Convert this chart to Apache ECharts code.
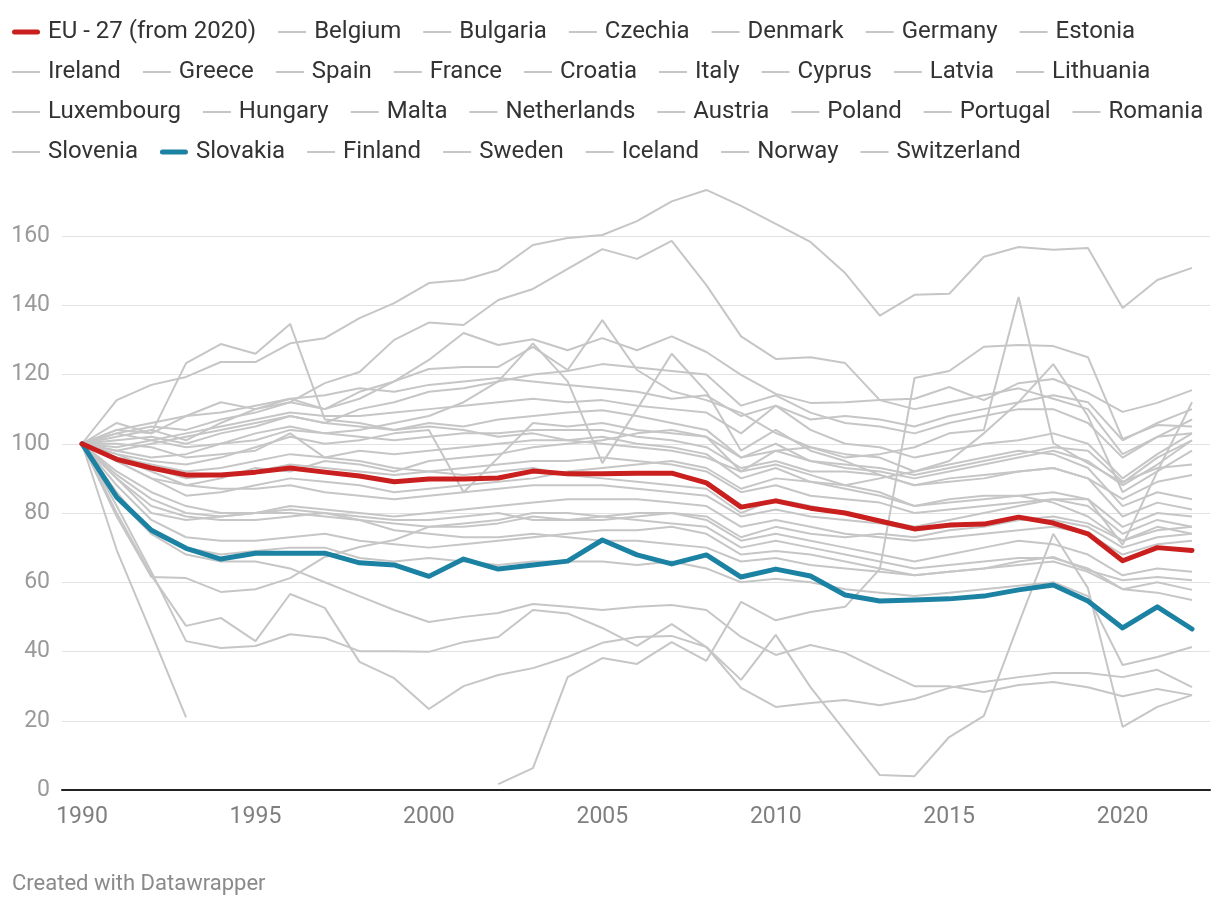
<!DOCTYPE html>
<html><head><meta charset="utf-8">
<script src="https://cdn.jsdelivr.net/npm/echarts@6/dist/echarts.min.js"></script>
<style>html,body{margin:0;padding:0;background:#fff}#c{width:1220px;height:906px}</style>
</head><body><div id="c"></div>
<script>
const years = [1990,1991,1992,1993,1994,1995,1996,1997,1998,1999,2000,2001,2002,2003,2004,2005,2006,2007,2008,2009,2010,2011,2012,2013,2014,2015,2016,2017,2018,2019,2020,2021,2022];
const xTickLabels = [1990,1995,2000,2005,2010,2015,2020];

const eu27 = [100,95.5,93,91,91,91.8,93,91.8,90.7,89, 89.8,89.8,90.1,92.1,91.3,91.3,91.5,91.5,88.7,81.7, 83.5,81.4,80,77.7,75.4,76.5,76.8,78.8,77.1,74, 66.2,70,69.2];
const slovakia = [100,84.6,75,69.8,66.7,68.4,68.4,68.4,65.6,65, 61.7,66.7,63.8,65,66.1,72.2,67.9,65.3,67.9,61.5, 63.8,61.8,56.3,54.6,54.9,55.2,56,57.8,59.2,54.6, 46.8,52.9,46.5];

const belgium = [100,100,99,96,97,98,103,96,98,97, 98,99,100,101,101,102,100,99,97,90, 93,89,87,85,82,83,84,85,86,84, 76,80,79];
const bulgaria = [100,79,61.5,61.2,57.2,58,61.2,67.3,70.2,72.2, 76,76,77,79,78,79,80,80,78,72, 74,72,70,68,66,68,70,72,71,68, 62,64,63];
const czechia = [100,88,78,73,72,72,73,74,72,71, 70,71,72,73,74,75,75,76,74,68, 69,68,66,64,62,63,64,65,66,63, 58,60,57.8];
const denmark = [100,91,84,80,79,80,80,79,78,77, 76,77,78,80,80,79,78,77,76,70, 72,70,68,66,64,65,66,67,67,64, 58,57,54.9];
const germany = [100,90,82,79,78,78,79,80,78,75, 74,73,73,74,73,72,72,71,70,66, 67,65,64,63,62,63,64,66,67.3,63.5, 60.6,61.5,60.6];
const estonia = [100,80,62,47.4,49.7,43,56.6,52.6,37,32.3, 23.4,30,33.2,35.2,38.4,42.5,44.2,44.5,41.3,29.5, 24,25.1,26,24.5,26.3,29.5,31.2,32.6,33.8,33.8, 32.6,34.7,29.7];
const ireland = [100,106,103,108,112,110,113,110,115,118, 124.2,132,128.5,130.2,127,130.5,127,131,126.5,119.9, 114.4,111.8,112,112.6,113,116.4,112.6,117.5,118.7,114.7, 109.2,111.8,115.5];
const greece = [100,98,96,97,100,103,105,103,104,106, 108,112,118,129,118,94.4,110,126,115,98, 104,98,95,91,88,90,91,92,93,90, 79,83,81];
const spain = [100,102,104,101,106,110,112,117.5,120.7,130, 135,134.3,141.5,144.7,150.5,156.2,153.4,158.6,145.8,131, 124.5,125,123.3,112.6,110,112,114,116,113,110, 97,102,103];
const france = [100,97,93,90,91,92,94,93,92,91, 92,93,94,95,95,96,95,94,92,86, 88,85,84,83,80,81,82,83,84,82, 74,78,76];
const croatia = [100,95,90,88,87,87,88,86,85,84, 85,86,87,88,88,88,87,86,85,79, 81,79,78,77,75,76,77,78,78,76, 70,73,74];
const italy = [100,103,101,99,100,101,104,103,102,101, 102,103,103,104,104,104,102,101,99,93, 95,92,92,91,88,89,90,92,93,90, 84,89,91];
const cyprus = [100,112.6,117,119.3,123.6,123.6,129,130.5,136.3,140.6, 146.4,147.3,150.2,157.4,159.4,160.3,164.3,170,173.3,168.7, 163.5,158.3,149.3,137,143,143.3,154,156.8,156,156.5, 139.2,147.3,150.8];
const latvia = [100,69.3,45.3,21,null,null,null,null,null,null, null,null,1.7,6.3,32.6,38.1,36.4,42.7,37.3,54.3, 49,51.4,52.9,63.8,119,121,128,128.5,128.2,125, 101.4,105.4,105];
const lithuania = [100,86,74,68,66,66,64,60,56,52, 48.5,50,51.1,53.7,52.9,52,52.9,53.4,52,44.2, 39,41.9,39.6,34.7,30,30,28.3,30.3,31.2,29.7, 27.1,29.2,27.4];
const luxembourg = [100,97,95,94,96,99,102,100,101,103, 104,86,96,106,105,106,104,103,102,96, 98,95,94,93,91,93,95,97,99,98, 89,93,94];
const hungary = [100,84,74,70,68,69,70,70,67,66, 67,66,65,66,66,66,65,66,64,60, 61,60,58,57,56,57,58,59,60,56, 36.1,38.4,41.3];
const malta = [100,96,92,88,90,93,92,95,94,92, 95,96,97,99,100,101,103,104,102,92, 98,99,96,97,99,103,104,142.4,100.2,94.4, 88.7,96,101];
const netherlands = [100,90,80,78,79,80,81,80,79,78, 78,79,80,78,78,78,79,80,79,73, 76,74,73,74,73,75,76,78,79,77, 72,75,76];
const austria = [100,101,102,100,103,105,108,106,105,104, 106,105,107,108,109,109.7,108,106,104,96, 100,95,93,92,90,92,94,96,98,95, 88,94,101];
const poland = [100,92,86,82,80,80,82,81,80,79, 80,81,82,83,84,84,84,83,82,76, 78,76,74,73,72,73,74,75,76,74, 68,71,72];
const portugal = [100,103,105,104,107,109,112,110,113,118, 121.6,122.2,122.2,128,121.3,135.7,121.3,115.2,112.6,108.9, 103.1,99,97,96,92,94,96,98,97,93, 82,86,84];
const romania = [100,82,63,43,41,41.6,45,43.9,40.1,40.1, 39.9,42.7,44.2,52,51,46.8,41.6,47.9,41.3,31.8, 44.8,29.7,17,4.3,4,15.3,21.4,48,74,58.3, 18.2,24,27.4];
const slovenia = [100,104,103,123.3,128.8,126,134.6,107,106,104, 105,104,102,103,101,100,99,98,96,92, 94,91,88,86,82,84,85,85,83,79, 72,76,74];
const finland = [100,96,94,92,93,95,97,96,95,93, 92,91,92,93,91,90,89,88,87,80, 84,82,80,78,76,78,80,82,84,84, 70.8,92,112];
const sweden = [100,95,90,85,86,88,90,89,88,86, 87,88,89,90,92,93,94,95,93,87, 90,89,88,90,92,95,103,112,123,108, 86,92,98];
const iceland = [100,98,100,102,104,106,108,106,110,112, 115,116,118,120,121,123,122,121,120,111, 114,109,106,105,103,106,108,110,110,106, 96,102,107];
const norway = [100,99,101,103,105,107,109,108,108,109, 110,111,112,113,112,112.6,111,110,109,103, 111,104,100,99,96,98,100,101,103,100, 90,97,103];
const switzerland = [100,104,106,108,109,111,113,114,116,115, 117,118,119,118,117,116,115,113,114,108, 111,107,108,107,105,108,110,112,114,112, 101,106,110];

const grayNames = ['Belgium','Bulgaria','Czechia','Denmark','Germany','Estonia','Ireland','Greece','Spain','France','Croatia','Italy','Cyprus','Latvia','Lithuania','Luxembourg','Hungary','Malta','Netherlands','Austria','Poland','Portugal','Romania','Slovenia','Finland','Sweden','Iceland','Norway','Switzerland'];
const grayValues = [belgium,bulgaria,czechia,denmark,germany,estonia,ireland,greece,spain,france,croatia,italy,cyprus,latvia,lithuania,luxembourg,hungary,malta,netherlands,austria,poland,portugal,romania,slovenia,finland,sweden,iceland,norway,switzerland];

const legendRow1 = ['EU - 27 (from 2020)','Belgium','Bulgaria','Czechia','Denmark','Germany','Estonia'];
const legendRow2 = ['Ireland','Greece','Spain','France','Croatia','Italy','Cyprus','Latvia','Lithuania'];
const legendRow3 = ['Luxembourg','Hungary','Malta','Netherlands','Austria','Poland','Portugal','Romania'];
const legendRow4 = ['Slovenia','Slovakia','Finland','Sweden','Iceland','Norway','Switzerland'];

const GRAY = '#c6c6c6', RED = '#c9201f', BLUE = '#1c82a3';
const thinIcon = 'path://M0,0M28,18M0,8L28,8L28,10L0,10Z';
const thickIcon = 'path://M0,0M28,18M2.5,6.5L25.5,6.5A2.5,2.5,0,0,1,25.5,11.5L2.5,11.5A2.5,2.5,0,0,1,2.5,6.5Z';

function pairs(arr){ return years.map((y,i)=>[y, arr[i]]); }

const series = grayNames.map((n,i)=>({
  name: n, type: 'line', data: pairs(grayValues[i]), symbol: 'none', clip: false,
  lineStyle: {color: GRAY, width: 2}, itemStyle: {color: GRAY}, z: 2, silent: true
}));
series.push({name:'Slovakia', type:'line', data: pairs(slovakia), symbol:'none', clip:false,
  lineStyle:{color:BLUE, width:5, cap:'round', join:'round'}, itemStyle:{color:BLUE}, z:4, silent:true});
series.push({name:'EU - 27 (from 2020)', type:'line', data: pairs(eu27), symbol:'none', clip:false,
  lineStyle:{color:RED, width:5, cap:'round', join:'round'}, itemStyle:{color:RED}, z:5, silent:true});

function legendFor(row, top){
  return {
    left: 7, top: top, width: 1400, orient: 'horizontal',
    itemWidth: 28, itemHeight: 18, itemGap: 22,
    selectedMode: false,
    itemStyle: {borderWidth: 0},
    textStyle: {fontSize: 24, color: '#333', fontFamily: 'Roboto', lineHeight: 18, padding: [0,0,0,3]},
    data: row.map(n => ({name: n, icon: (n === 'Slovakia' || n.indexOf('EU') === 0) ? thickIcon : thinIcon}))
  };
}

const chart = echarts.init(document.getElementById('c'), null, {renderer: 'canvas'});
chart.setOption({
  animation: false,
  backgroundColor: '#fff',
  textStyle: {fontFamily: 'Roboto'},
  title: {
    text: 'Created with Datawrapper', left: 7, top: 868,
    textStyle: {fontSize: 22, fontWeight: 'normal', color: '#8a8a8a', fontFamily: 'Roboto'}
  },
  legend: [legendFor(legendRow1, 15), legendFor(legendRow2, 55), legendFor(legendRow3, 95), legendFor(legendRow4, 135)],
  grid: {left: 62, right: 10, top: 236, bottom: 116},
  xAxis: {
    type: 'value', min: 1989.423, max: 2022.519,
    axisLine: {show: true, lineStyle: {color: '#222', width: 2}},
    axisTick: {show: false},
    splitLine: {show: false},
    axisLabel: {customValues: xTickLabels, formatter: v => String(v), fontSize: 23, color: '#7f7f7f', margin: 16, fontFamily: 'Roboto'}
  },
  yAxis: {
    type: 'value', min: 0, max: 160, interval: 20,
    axisLine: {show: false}, axisTick: {show: false},
    splitLine: {lineStyle: {color: '#e2e2e2', width: 1}},
    axisLabel: {fontSize: 23, color: '#9a9a9a', margin: 12, fontFamily: 'Roboto'}
  },
  series: series
});
</script>
</body></html>
